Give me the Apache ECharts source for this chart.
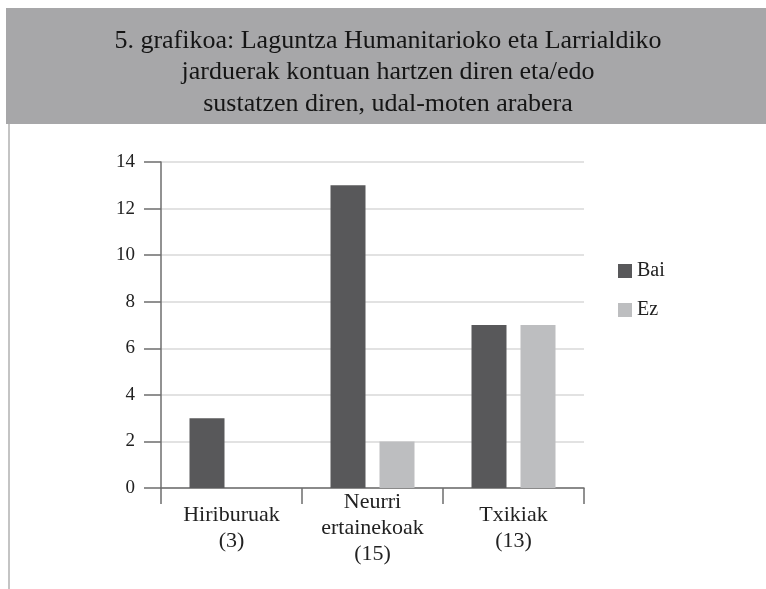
<!DOCTYPE html>
<html>
<head>
<meta charset="utf-8">
<script src="https://cdn.jsdelivr.net/npm/echarts@6/dist/echarts.min.js"></script>
<style>
  html, body { margin: 0; padding: 0; background: #fff; }
  #chart { width: 766px; height: 589px; }
</style>
</head>
<body>
<div id="chart"></div>
<script>
var categories = ['Hiriburuak\n(3)', 'Neurri\nertainekoak\n(15)', 'Txikiak\n(13)'];
var baiValues = [3, 13, 7];
var ezValues = [0, 2, 7];
var yTicks = [0, 2, 4, 6, 8, 10, 12, 14];

var serif = '"Liberation Serif", "DejaVu Serif", serif';

var chart = echarts.init(document.getElementById('chart'));
chart.setOption({
    animation: false,
    backgroundColor: '#fff',
    textStyle: { fontFamily: serif },
    graphic: [
        { // banner behind title
            type: 'rect',
            shape: { x: 6, y: 8, width: 760, height: 116 },
            style: { fill: '#a7a7a9' },
            z: -1
        },
        {
            type: 'line',
            shape: { x1: 9, y1: 124, x2: 9, y2: 589 },
            style: { stroke: '#c4c4c4', lineWidth: 2 }
        }
    ],
    title: {
        text: '5. grafikoa: Laguntza Humanitarioko eta Larrialdiko\njarduerak kontuan hartzen diren eta/edo\nsustatzen diren, udal-moten arabera',
        left: 383,
        top: 20,
        textAlign: 'center',
        textStyle: {
            fontFamily: serif,
            fontSize: 26,
            fontWeight: 'normal',
            color: '#151515',
            lineHeight: 31.5
        }
    },
    legend: {
        orient: 'vertical',
        left: 613,
        top: 256,
        itemWidth: 14,
        itemHeight: 14,
        itemGap: 19,
        icon: 'rect',
        textStyle: { fontFamily: serif, fontSize: 20, color: '#222' },
        data: ['Bai', 'Ez']
    },
    grid: { left: 161, right: 182, top: 162, bottom: 101 },
    xAxis: {
        type: 'category',
        data: categories,
        axisLine: { lineStyle: { color: '#6e6e6e', width: 1.5 } },
        axisTick: { show: true, length: 16, lineStyle: { color: '#6e6e6e', width: 1.5 } },
        axisLabel: {
            fontFamily: serif,
            fontSize: 22,
            color: '#222',
            lineHeight: 26,
            verticalAlign: 'middle',
            margin: 40
        }
    },
    yAxis: {
        type: 'value',
        min: 0,
        max: 14,
        interval: 2,
        axisLine: { show: true, lineStyle: { color: '#6e6e6e', width: 1.5 } },
        axisTick: { show: true, length: 17, lineStyle: { color: '#6e6e6e', width: 1.5 } },
        axisLabel: {
            fontFamily: serif,
            fontSize: 19,
            color: '#222',
            margin: 26,
            formatter: function(v) { return yTicks.indexOf(v) >= 0 ? String(v) : ''; }
        },
        splitLine: { lineStyle: { color: '#d9d9d9', width: 1.5 } }
    },
    series: [
        {
            name: 'Bai',
            type: 'bar',
            data: baiValues,
            barWidth: 35,
            barGap: '40%',
            itemStyle: { color: '#58585a' }
        },
        {
            name: 'Ez',
            type: 'bar',
            data: ezValues,
            barWidth: 35,
            itemStyle: { color: '#bdbec0' }
        }
    ]
});
</script>
</body>
</html>
